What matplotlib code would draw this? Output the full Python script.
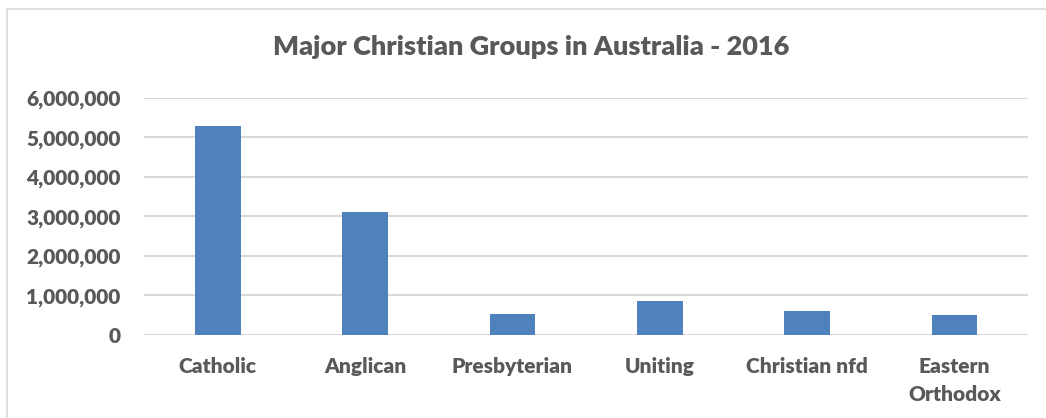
import matplotlib.pyplot as plt
from matplotlib.patches import Rectangle
from matplotlib.ticker import FuncFormatter

# Data (2016 census)
groups = ['Catholic', 'Anglican', 'Presbyterian', 'Uniting', 'Christian nfd', 'Eastern\nOrthodox']
persons = [5291839, 3101185, 526689, 870183, 612371, 502801]

plt.rcParams['font.family'] = ['Lato', 'DejaVu Sans']
text_col = '#595959'
wt = 'heavy'

fig = plt.figure(figsize=(10.46, 4.18), dpi=100)
ax = fig.add_axes([0.1377, 0.1986, 0.9828 - 0.1377, 0.7656 - 0.1986])

x = range(len(groups))
ax.bar(x, persons, width=0.31, color='#4f81bd', zorder=3)

ax.set_xlim(-0.5, len(groups) - 0.5)
ax.set_ylim(0, 6000000)
ax.set_yticks(range(0, 6000001, 1000000))
ax.yaxis.set_major_formatter(FuncFormatter(lambda v, p: f'{int(v):,}'))
ax.set_xticks(list(x))
ax.set_xticklabels(groups)

ax.grid(axis='y', color='#d9d9d9', linewidth=1.5, zorder=0)
for s in ax.spines.values():
    s.set_visible(False)
ax.tick_params(axis='both', length=0, labelsize=15, labelcolor=text_col)
ax.tick_params(axis='y', pad=17)
ax.tick_params(axis='x', pad=16)
for lab in ax.get_xticklabels() + ax.get_yticklabels():
    lab.set_fontweight(wt)
    lab.set_linespacing(1.55)

fig.text(0.508, 0.888, 'Major Christian Groups in Australia - 2016',
         ha='center', va='center', fontsize=19.5, fontweight=wt, color=text_col)

# chart border
fig.patches.append(Rectangle((0.0067, -0.01), 1.0, 0.989, transform=fig.transFigure,
                             fill=False, edgecolor='#d9d9d9', linewidth=1.2))

fig.savefig('out.png', dpi=100)
